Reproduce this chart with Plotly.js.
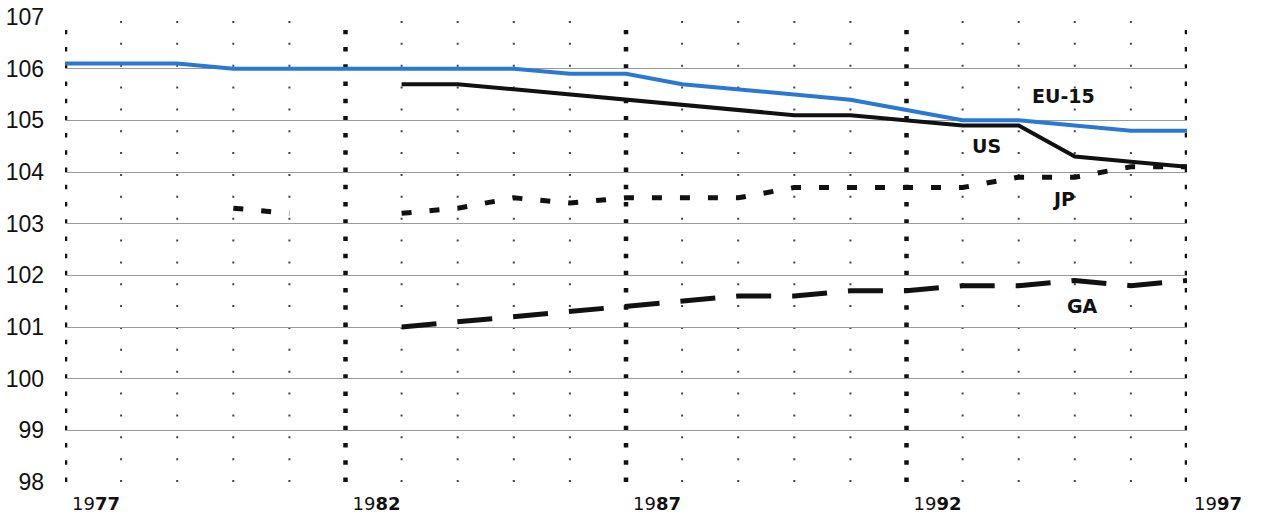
<!DOCTYPE html>
<html>
<head>
<meta charset="utf-8">
<script src="https://cdn.plot.ly/plotly-3.0.1.min.js"></script>
<style>html,body{margin:0;padding:0;background:#fff;}#chart{width:1273px;height:518px;}</style>
</head>
<body>
<div id="chart"></div>
<script>
// ---- data ----
const years = [1977,1978,1979,1980,1981,1982,1983,1984,1985,1986,1987,1988,1989,1990,1991,1992,1993,1994,1995,1996,1997];
const eu15 = [106.1,106.1,106.1,106.0,106.0,106.0,106.0,106.0,106.0,105.9,105.9,105.7,105.6,105.5,105.4,105.2,105.0,105.0,104.9,104.8,104.8];
const us   = [null,null,null,null,null,null,105.7,105.7,105.6,105.5,105.4,105.3,105.2,105.1,105.1,105.0,104.9,104.9,104.3,104.2,104.1];
const jp   = [null,null,null,103.3,103.2,null,103.2,103.3,103.5,103.4,103.5,103.5,103.5,103.7,103.7,103.7,103.7,103.9,103.9,104.1,104.1];
const ga   = [null,null,null,null,null,null,101.0,101.1,101.2,101.3,101.4,101.5,101.6,101.6,101.7,101.7,101.8,101.8,101.9,101.8,101.9];
const majorYears = [1977,1982,1987,1992,1997];
const yTicks = [98,99,100,101,102,103,104,105,106,107];
const seriesNames = ['EU-15','US','JP','GA'];

// ---- styling / layout ----
const F = 'Liberation Sans, Arial, sans-serif';
const xTickText = majorYears.map(y => {
  const s = String(y);
  return s.slice(0,2) + '<b>' + s.slice(2) + '</b>';
});

const traces = [
  {x: years, y: eu15, name: seriesNames[0], mode: 'lines', line: {color: '#2b78d4', width: 4}},
  {x: years, y: us, name: seriesNames[1], mode: 'lines', line: {color: '#111', width: 4}},
  {x: years, y: jp, name: seriesNames[2], mode: 'lines', connectgaps: false, line: {color: '#111', width: 5, dash: '10px,18px'}},
  {x: years, y: ga, name: seriesNames[3], mode: 'lines', line: {color: '#111', width: 5, dash: '35px,21px'}}
];

const shapes = [];
years.forEach(yr => {
  if (majorYears.includes(yr)) {
    shapes.push({type: 'line', xref: 'x', yref: 'y', x0: yr, x1: yr, y0: 98, y1: 106.75, layer: 'below',
      line: {color: '#111', width: 4.5, dash: '4.5px,12.72px'}});
  } else {
    shapes.push({type: 'line', xref: 'x', yref: 'y', x0: yr, x1: yr, y0: 98, y1: 107, layer: 'below',
      line: {color: '#444', width: 2, dash: '2px,19.86px'}});
  }
});

const labelFont = {family: 'DejaVu Sans, sans-serif', size: 19, color: '#111', weight: 'bold'};
const annotations = [
  {x: 1994.8, y: 105.48, text: '<b>EU-15</b>'},
  {x: 1993.42, y: 104.5, text: '<b>US</b>'},
  {x: 1994.8, y: 103.47, text: '<b>JP</b>'},
  {x: 1995.13, y: 101.4, text: '<b>GA</b>'}
].map(a => Object.assign({xref: 'x', yref: 'y', showarrow: false, font: labelFont, xanchor: 'center', yanchor: 'middle'}, a));
annotations.push({x: 1997.88, y: 98.11, xref: 'x', yref: 'y', text: 'YEAR', showarrow: false,
  font: {family: F, size: 18, color: '#222'}, xanchor: 'center', yanchor: 'middle'});

const layout = {
  width: 1273, height: 518,
  margin: {l: 65, r: 86, t: 17, b: 36, pad: 0},
  paper_bgcolor: '#fff', plot_bgcolor: '#fff',
  showlegend: false,
  xaxis: {
    range: [1977, 1997], showgrid: false, zeroline: false, showline: false,
    tickvals: majorYears, ticktext: xTickText, ticks: '',
    tickfont: {family: 'DejaVu Sans, sans-serif', size: 18, color: '#111'},
    ticklabelshift: 31, ticklabelstandoff: 9
  },
  yaxis: {
    range: [98, 107], showgrid: true, gridcolor: '#9a9a9a', gridwidth: 1,
    zeroline: false, showline: false, tickvals: yTicks, ticks: '',
    tickfont: {family: 'Liberation Sans Narrow, Liberation Sans, Arial, sans-serif', size: 23, color: '#111'},
    ticklabelstandoff: 20
  },
  shapes: shapes,
  annotations: annotations
};

Plotly.newPlot('chart', traces, layout, {displayModeBar: false, staticPlot: true});
</script>
</body>
</html>
